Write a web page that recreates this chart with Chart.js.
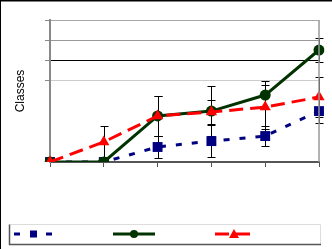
<!DOCTYPE html>
<html>
<head>
<meta charset="utf-8">
<script src="https://cdn.jsdelivr.net/npm/chart.js@4"></script>
<style>
  html, body { margin: 0; padding: 0; background: #fff; }
  #wrap { width: 332px; height: 249px; position: relative; }
</style>
</head>
<body>
<div id="wrap"><canvas id="myChart"></canvas></div>
<script>
const categories = ["1", "2", "3", "4", "5", "6"];

const blueValues = [0, 0, 0.74, 1.03, 1.28, 2.51];
const greenValues = [0, 0, 2.27, 2.51, 3.3, 5.52];
const redValues = [0, 0.99, 2.27, 2.46, 2.71, 3.2];

const blueErr = [0, 0, 0.52, 0.8, 0.5, 0.6];
const greenErr = [0, 0, 1.0, 1.23, 0.69, 0.59];
const redErr = [0, 0.79, 1.0, 0.6, 1.08, 1.0];

const yTicks = [0, 1, 2, 3, 4, 5, 6, 7];

const BLUE = "#000080";
const GREEN = "#003300";
const RED = "#ff0000";

// error bars, drawn under the markers
const errorBars = {
    id: "errorBars",
    beforeDatasetsDraw(chart) {
        const ctx = chart.ctx;
        const x = chart.scales.x;
        const y = chart.scales.y;
        ctx.save();
        ctx.strokeStyle = "#000";
        ctx.lineWidth = 1;
        chart.data.datasets.forEach(ds => {
            ds.data.forEach((v, i) => {
                const e = ds.errors[i];
                if (!e) return;
                const px = Math.round(x.getPixelForValue(i)) + 0.5;
                const top = Math.round(y.getPixelForValue(v + e)) + 0.5;
                const bot = Math.round(y.getPixelForValue(v - e)) + 0.5;
                ctx.beginPath();
                ctx.moveTo(px, top); ctx.lineTo(px, bot);
                ctx.moveTo(px - 4, top); ctx.lineTo(px + 4, top);
                ctx.moveTo(px - 4, bot); ctx.lineTo(px + 4, bot);
                ctx.stroke();
            });
        });
        ctx.restore();
    },
    afterDraw(chart) {
        const ctx = chart.ctx;
        const a = chart.chartArea;
        ctx.save();
        // right frame of plot
        ctx.strokeStyle = "#999";
        ctx.lineWidth = 1.5;
        ctx.beginPath();
        ctx.moveTo(a.right, a.top); ctx.lineTo(a.right, a.bottom);
        ctx.stroke();
        // outer black frame, top and left only
        ctx.strokeStyle = "#000";
        ctx.lineWidth = 2;
        ctx.beginPath();
        ctx.moveTo(0, 249); ctx.lineTo(0, 0.5); ctx.lineTo(332, 0.5);
        ctx.stroke();

        // legend box
        ctx.lineWidth = 1;
        ctx.strokeStyle = "#ddd";
        ctx.beginPath();
        ctx.moveTo(9.5, 224.5); ctx.lineTo(320.5, 224.5); ctx.lineTo(320.5, 244);
        ctx.stroke();
        ctx.strokeStyle = "#555";
        ctx.lineWidth = 1.5;
        ctx.beginPath();
        ctx.moveTo(9.5, 224.5); ctx.lineTo(9.5, 244.5); ctx.lineTo(321, 244.5);
        ctx.stroke();

        const ly = 234;
        const items = [[14, 53], [113, 155], [215, 253]];
        chart.data.datasets.forEach((ds, i) => {
            const [x0, x1] = items[ds.legendIndex];
            ctx.strokeStyle = ds.borderColor;
            ctx.lineWidth = 3;
            ctx.setLineDash(ds.borderDash || []);
            ctx.beginPath();
            ctx.moveTo(x0, ly); ctx.lineTo(x1, ly);
            ctx.stroke();
            ctx.setLineDash([]);
            ctx.fillStyle = ds.pointBackgroundColor;
            const cx = (x0 + x1) / 2;
            if (ds.pointStyle === "rect") {
                ctx.fillRect(cx - 3.5, ly - 3.5, 7, 7);
            } else if (ds.pointStyle === "circle") {
                ctx.beginPath(); ctx.arc(cx, ly, 4, 0, Math.PI * 2); ctx.fill();
            } else {
                ctx.beginPath();
                ctx.moveTo(cx, ly - 5); ctx.lineTo(cx + 5, ly + 4); ctx.lineTo(cx - 5, ly + 4);
                ctx.closePath(); ctx.fill();
            }
        });
        ctx.restore();
    }
};

const data = {
    labels: categories,
    datasets: [{
        label: "",
        data: redValues,
        errors: redErr,
        legendIndex: 2,
        order: 1,
        borderColor: RED,
        borderWidth: 3,
        borderDash: [14, 7],
        pointStyle: "triangle",
        pointRadius: 6.5,
        pointBackgroundColor: RED,
        pointBorderColor: RED,
        pointBorderWidth: 0
    }, {
        label: "",
        data: greenValues,
        errors: greenErr,
        legendIndex: 1,
        order: 2,
        borderColor: GREEN,
        borderWidth: 3,
        pointStyle: "circle",
        pointRadius: 5.5,
        pointBackgroundColor: GREEN,
        pointBorderColor: GREEN,
        pointBorderWidth: 0
    }, {
        label: "",
        data: blueValues,
        errors: blueErr,
        legendIndex: 0,
        order: 3,
        borderColor: BLUE,
        borderWidth: 3,
        borderDash: [6, 10],
        pointStyle: "rect",
        pointRadius: 7,
        pointBackgroundColor: BLUE,
        pointBorderColor: BLUE,
        pointBorderWidth: 0
    }]
};

function gridColor(ctx) {
    const v = ctx.tick.value;
    if (v === 7) return "#a8a8a8";
    if (v === 6) return "#999";
    if (v === 5) return "#000";
    if (v === 4) return "#ccc";
    return "rgba(0,0,0,0)";
}

const config = {
    type: "line",
    data: data,
    options: {
        responsive: true,
        maintainAspectRatio: false,
        animation: false,
        layout: { padding: { left: 0, top: 20, right: 13, bottom: 82 } },
        plugins: {
            legend: { display: false },
            tooltip: { enabled: false }
        },
        elements: { line: { tension: 0 } },
        scales: {
            x: {
                offset: false,
                ticks: { display: false },
                grid: {
                    drawOnChartArea: false,
                    drawTicks: true,
                    tickLength: 5,
                    tickColor: "#555"
                },
                border: { color: "#555", width: 2 },
                afterFit(scale) { scale.height = 5; }
            },
            y: {
                min: yTicks[0],
                max: yTicks[yTicks.length - 1],
                afterBuildTicks(scale) { scale.ticks = yTicks.map(v => ({ value: v })); },
                ticks: { display: false },
                grid: {
                    color: gridColor,
                    lineWidth: 1,
                    drawTicks: true,
                    tickLength: 5,
                    tickColor: ctx => ctx.tick.value >= 4 ? "#888" : "rgba(0,0,0,0)"
                },
                border: { color: "#888", width: 2 },
                title: {
                    display: true,
                    text: "Classes",
                    color: "#000",
                    font: { family: "'Liberation Sans', Arial, sans-serif", size: 12 },
                    padding: { top: 13, bottom: 0 }
                },
                afterFit(scale) { scale.width = 50; }
            }
        }
    },
    plugins: [errorBars]
};

myChart = new Chart(document.getElementById("myChart"), config);
</script>
</body>
</html>
